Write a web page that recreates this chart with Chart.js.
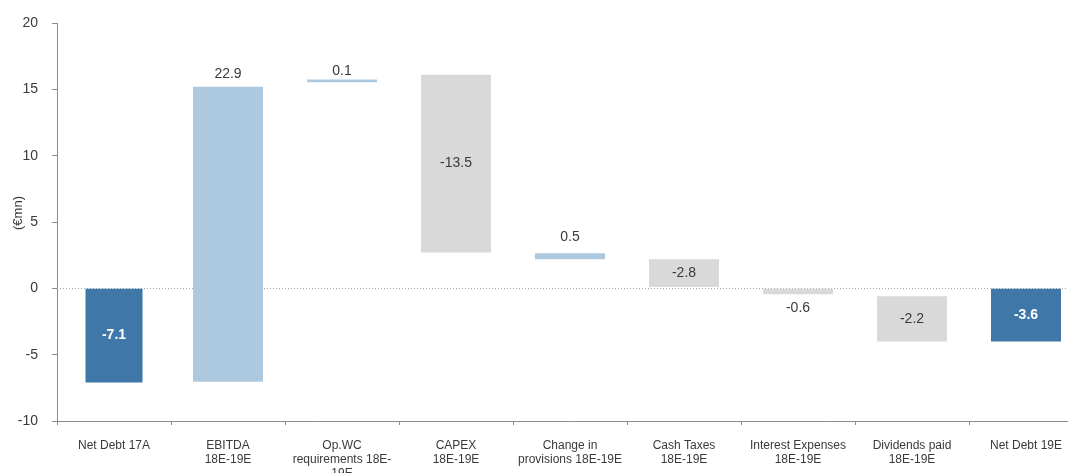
<!DOCTYPE html>
<html>
<head>
<meta charset="utf-8">
<script src="https://cdn.jsdelivr.net/npm/chart.js@4/dist/chart.umd.min.js"></script>
<style>
html,body{margin:0;padding:0;background:#fff;overflow:hidden;width:1068px;height:473px;}
canvas{display:block;}
</style>
</head>
<body>
<canvas id="c" width="1090" height="473"></canvas>
<script>
const categories = [
  ["Net Debt 17A"],
  ["EBITDA", "18E-19E"],
  ["Op.WC", "requirements 18E-", "19E"],
  ["CAPEX", "18E-19E"],
  ["Change in", "provisions 18E-19E"],
  ["Cash Taxes", "18E-19E"],
  ["Interest Expenses", "18E-19E"],
  ["Dividends paid", "18E-19E"],
  ["Net Debt 19E"]
];
const barLow  = [-7.1, -7.05, 15.53, 2.7, 2.2, 0.1, -0.45, -4.0, -4.0];
const barHigh = [0, 15.2, 15.75, 16.1, 2.65, 2.2, 0, -0.6, 0];
const valueLabels = [-7.1, 22.9, 0.1, -13.5, 0.5, -2.8, -0.6, -2.2, -3.6];
const barKind = ["total", "up", "up", "down", "up", "down", "down", "down", "total"];
const yTicks = { min: -10, max: 20, step: 5 };
const yTitle = "(€mn)";

const colors = { total: "#3F78A8", up: "#ADC9DF", down: "#D9D9D9" };
const labelPlace = ["inside", "above", "above", "inside", "above", "inside", "below", "inside", "inside"];
const aboveOffset = [0, 13, 8, 0, 16, 0, 0, 0, 0];
const FONT = "'Liberation Sans', Arial, sans-serif";

const firstData = categories.map((_, i) => i === 0 ? [barLow[i], barHigh[i]] : null);
const restData = categories.map((_, i) => i === 0 ? null : [barLow[i], barHigh[i]]);

const labelPlugin = {
  id: "wfLabels",
  afterDatasetsDraw(chart) {
    const ctx = chart.ctx;
    const x = chart.scales.x, y = chart.scales.y;
    ctx.save();
    ctx.textAlign = "center";
    ctx.textBaseline = "middle";
    valueLabels.forEach((v, i) => {
      const cx = x.getPixelForValue(i);
      const top = y.getPixelForValue(Math.max(barLow[i], barHigh[i]));
      const bot = y.getPixelForValue(Math.min(barLow[i], barHigh[i]));
      let py;
      if (labelPlace[i] === "above") py = top - aboveOffset[i];
      else if (labelPlace[i] === "below") py = bot + 14;
      else py = (top + bot) / 2;
      if (barKind[i] === "total") {
        ctx.fillStyle = "#ffffff";
        ctx.font = "bold 14px " + FONT;
      } else {
        ctx.fillStyle = "#3a3a3a";
        ctx.font = "14px " + FONT;
      }
      ctx.fillText(v.toFixed(1), cx, py);
    });
    // y-axis title
    ctx.translate(18, 213);
    ctx.rotate(-Math.PI / 2);
    ctx.fillStyle = "#3a3a3a";
    ctx.font = "13px " + FONT;
    ctx.fillText(yTitle, 0, 0);
    ctx.restore();
  },
  beforeDatasetsDraw(chart) {
    const ctx = chart.ctx, y = chart.scales.y, a = chart.chartArea;
    const py = Math.round(y.getPixelForValue(0)) + 0.5;
    ctx.save();
    ctx.strokeStyle = "#a6a6a6";
    ctx.lineWidth = 1;
    ctx.setLineDash([1, 2]);
    ctx.beginPath();
    ctx.moveTo(a.left, py);
    ctx.lineTo(a.right, py);
    ctx.stroke();
    ctx.restore();
  }
};

new Chart(document.getElementById("c"), {
  type: "bar",
  data: {
    labels: categories,
    datasets: [
      {
        data: firstData,
        backgroundColor: categories.map((_, i) => colors[barKind[i]]),
        barPercentage: 0.5,
        categoryPercentage: 1,
        grouped: false,
        skipNull: true
      },
      {
        data: restData,
        backgroundColor: categories.map((_, i) => colors[barKind[i]]),
        barPercentage: 0.614,
        categoryPercentage: 1,
        grouped: false,
        skipNull: true
      }
    ]
  },
  options: {
    responsive: false,
    devicePixelRatio: 1,
    animation: false,
    layout: { padding: { top: 23, right: 7, left: 0, bottom: 0 } },
    plugins: { legend: { display: false }, tooltip: { enabled: false } },
    scales: {
      x: {
        afterFit(s) { s.height = 52; },
        grid: { drawOnChartArea: false, offset: true, tickLength: 4, color: "#8c8c8c" },
        border: { color: "#8c8c8c" },
        ticks: {
          color: "#3a3a3a",
          font: { family: FONT, size: 12, lineHeight: 1.17 },
          padding: 14,
          maxRotation: 0,
          autoSkip: false
        }
      },
      y: {
        min: yTicks.min, max: yTicks.max,
        afterFit(s) { s.width = 57; },
        grid: { drawOnChartArea: false, tickLength: 5, color: "#8c8c8c" },
        border: { color: "#8c8c8c" },
        ticks: {
          stepSize: yTicks.step,
          color: "#3a3a3a",
          font: { family: FONT, size: 14 },
          padding: 14
        },
        title: { display: false }
      }
    }
  },
  plugins: [labelPlugin]
});
</script>
</body>
</html>
